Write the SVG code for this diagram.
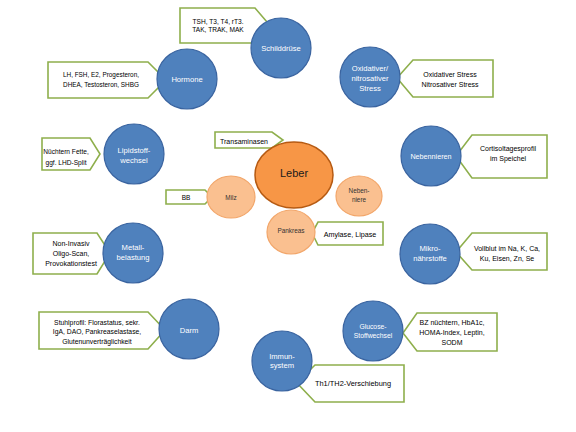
<svg xmlns="http://www.w3.org/2000/svg" width="576" height="432" viewBox="0 0 576 432">
<defs>
<style>
text{font-family:"Liberation Sans",Arial,sans-serif;text-anchor:middle}
.blue{fill:#4F81BD;stroke:#3A64A0;stroke-width:1.2}
.peach{fill:#FAC090;stroke:#F2A66A;stroke-width:1.2}
.leber{fill:#F79646;stroke:#B65A12;stroke-width:1.5}
.call{fill:#FFFFFF;stroke:#8EAF4C;stroke-width:1.6;stroke-linejoin:miter}
.wt{fill:#FFFFFF;font-size:7.6px}
.ct{fill:#000000;font-size:7px}
.pt{fill:#333333;font-size:6.4px}
</style>
</defs>
<rect width="576" height="432" fill="#FFFFFF"/>

<g id="connectors">
<polygon class="call" points="180,8 255,8 270,25.5 255,43 180,43"/>
<polygon class="call" points="48,62 148,62 166,80 148,98 48,98"/>
<polygon class="call" points="413,60 493,60 493,97 413,97 397,78"/>
<polygon class="call" points="42,138 90,138 100,154 90,170 42,170"/>
<polygon class="call" points="472,135 547,135 547,178 472,178 456,156"/>
<polygon class="call" points="215,132 272,132 283,140 272,148 215,148"/>
<polygon class="call" points="166,190 205,190 212,197 205,204 166,204"/>
<polygon class="call" points="318,222 383,222 383,245 318,245 312,233"/>
<polygon class="call" points="33,233 97,233 110,253 97,274 33,274"/>
<polygon class="call" points="472,233 547,233 547,270 472,270 456,252"/>
<polygon class="call" points="39,312 148,312 165,330 148,349 39,349"/>
<polygon class="call" points="417,313 497,313 497,351 417,351 403,333"/>
<polygon class="call" points="315,365 404,365 404,402 315,402 297,383"/>
</g>

<g id="schilddruese">
<circle class="blue" cx="281" cy="48" r="30"/>
<text class="wt" x="281" y="50.5">Schilddrüse</text>
<text class="ct" x="218" y="23.5" style="font-size:6.6px">TSH, T3, T4, rT3.</text>
<text class="ct" x="218" y="32" style="font-size:6.6px">TAK, TRAK, MAK</text>
</g>

<g id="hormone">
<circle class="blue" cx="187" cy="79" r="30"/>
<text class="wt" x="187" y="81.5">Hormone</text>
<text class="ct" x="101" y="77" style="font-size:6.4px">LH, FSH, E2, Progesteron,</text>
<text class="ct" x="101" y="86.5" style="font-size:6.4px">DHEA, Testosteron, SHBG</text>
</g>

<g id="oxidativ">
<circle class="blue" cx="370" cy="77" r="30"/>
<text class="wt" x="370" y="70.5">Oxidativer/</text>
<text class="wt" x="370" y="80.5">nitrosativer</text>
<text class="wt" x="370" y="90.5">Stress</text>
<text class="ct" x="450" y="76.5">Oxidativer Stress</text>
<text class="ct" x="450" y="86.5">Nitrosativer Stress</text>
</g>

<g id="lipid">
<circle class="blue" cx="134" cy="154" r="30"/>
<text class="wt" x="134" y="152.5">Lipidstoff-</text>
<text class="wt" x="134" y="162.5">wechsel</text>
<text class="ct" x="66" y="154" style="font-size:6.6px">Nüchtern Fette,</text>
<text class="ct" x="66" y="165" style="font-size:6.6px">ggf. LHD-Split</text>
</g>

<g id="nebennieren">
<circle class="blue" cx="431" cy="156" r="30"/>
<text class="wt" x="431" y="159" style="font-size:7.2px">Nebennieren</text>
<text class="ct" x="508" y="150.5">Cortisoltagesprofil</text>
<text class="ct" x="508" y="160.5">im Speichel</text>
</g>

<g id="leber">
<ellipse class="leber" cx="294" cy="175" rx="39" ry="33"/>
<text x="294" y="176.5" style="font-size:11px;fill:#1a1a1a">Leber</text>
<text class="ct" x="244" y="143.5">Transaminasen</text>
</g>

<g id="milz">
<ellipse class="peach" cx="231" cy="197" rx="24" ry="21"/>
<text class="pt" x="231" y="199.5">Milz</text>
<text class="ct" x="186" y="199.5" style="font-size:6.5px">BB</text>
</g>

<g id="nebenniere">
<ellipse class="peach" cx="359" cy="196" rx="23" ry="20"/>
<text class="pt" x="359" y="193">Neben-</text>
<text class="pt" x="359" y="202">niere</text>
</g>

<g id="pankreas">
<ellipse class="peach" cx="291" cy="232" rx="24" ry="22"/>
<text class="pt" x="291" y="232.5">Pankreas</text>
<text class="ct" x="350" y="236.5" style="font-size:7.2px">Amylase, Lipase</text>
</g>

<g id="metall">
<circle class="blue" cx="133" cy="253" r="30"/>
<text class="wt" x="133" y="249.5">Metall-</text>
<text class="wt" x="133" y="259.5">belastung</text>
<text class="ct" x="71" y="245.5">Non-Invasiv</text>
<text class="ct" x="71" y="255.5">Oligo-Scan,</text>
<text class="ct" x="71" y="265.5">Provokationstest</text>
</g>

<g id="mikro">
<circle class="blue" cx="430" cy="254" r="30"/>
<text class="wt" x="430" y="250.5">Mikro-</text>
<text class="wt" x="430" y="260.5">nährstoffe</text>
<text class="ct" x="507" y="250.5">Vollblut im Na, K, Ca,</text>
<text class="ct" x="507" y="260.5">Ku, Eisen, Zn, Se</text>
</g>

<g id="darm">
<circle class="blue" cx="189" cy="329" r="30"/>
<text class="wt" x="189" y="332.5">Darm</text>
<text class="ct" x="97" y="324.5" style="font-size:6.8px">Stuhlprofil: Florastatus, sekr.</text>
<text class="ct" x="97" y="334" style="font-size:6.8px">IgA, DAO, Pankreaselastase,</text>
<text class="ct" x="97" y="343.5" style="font-size:6.8px">Glutenunverträglichkeit</text>
</g>

<g id="glucose">
<circle class="blue" cx="373" cy="331" r="30"/>
<text class="wt" x="373" y="328.5" style="font-size:6.8px">Glucose-</text>
<text class="wt" x="373" y="337.5" style="font-size:6.8px">Stoffwechsel</text>
<text class="ct" x="452" y="324.5">BZ nüchtern, HbA1c,</text>
<text class="ct" x="452" y="334.5">HOMA-Index, Leptin,</text>
<text class="ct" x="452" y="344.5">SODM</text>
</g>

<g id="immunsystem">
<circle class="blue" cx="282" cy="361" r="30"/>
<text class="wt" x="282" y="358.5">Immun-</text>
<text class="wt" x="282" y="368">system</text>
<text class="ct" x="353" y="386" style="font-size:7.4px">Th1/TH2-Verschiebung</text>
</g>
</svg>
